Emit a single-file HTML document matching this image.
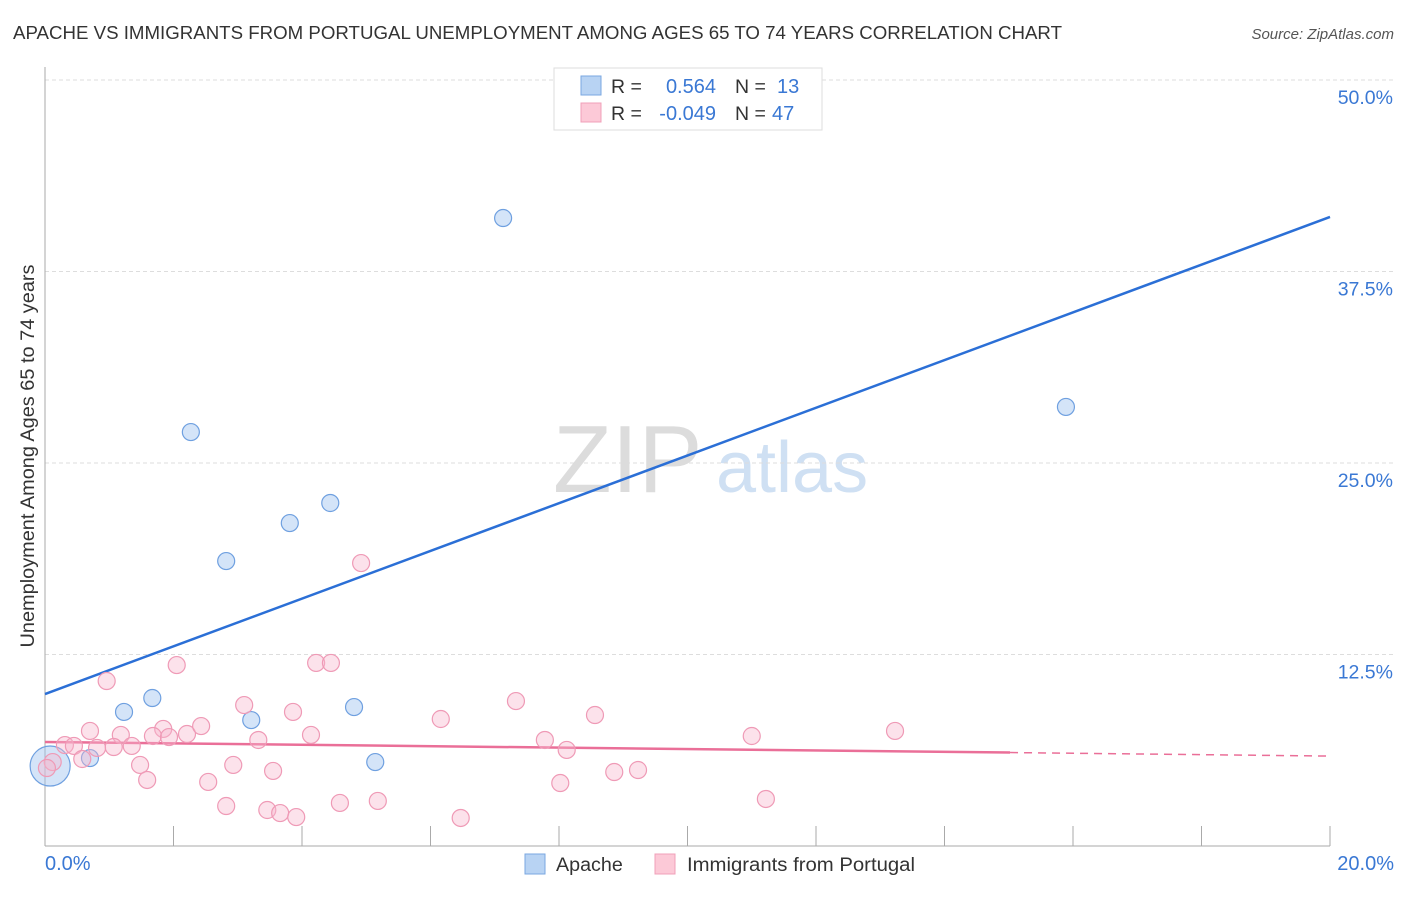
<!DOCTYPE html>
<html><head><meta charset="utf-8"><style>
body{margin:0;background:#fff;font-family:"Liberation Sans",sans-serif}
svg text{font-family:"Liberation Sans",sans-serif}
</style></head><body>
<svg id="chart" width="1406" height="892" viewBox="0 0 1406 892" xmlns="http://www.w3.org/2000/svg">
<text x="13" y="39" font-size="18" fill="#333" textLength="1049" lengthAdjust="spacingAndGlyphs">APACHE VS IMMIGRANTS FROM PORTUGAL UNEMPLOYMENT AMONG AGES 65 TO 74 YEARS CORRELATION CHART</text>
<text x="1394" y="39" font-size="15" fill="#555" text-anchor="end" font-style="italic">Source: ZipAtlas.com</text>
<g>
<text x="553" y="492" font-size="96" fill="#dcdcdc" font-family="Liberation Serif">ZIP</text>
<text x="716" y="492" font-size="72" fill="#cfe0f3">atlas</text>
</g>
<g id="grid"></g>
<g id="axes"></g>
<g id="trends"></g>
<g id="points"></g>
<text transform="translate(34,456) rotate(-90)" font-size="19" fill="#333" text-anchor="middle" textLength="383" lengthAdjust="spacingAndGlyphs">Unemployment Among Ages 65 to 74 years</text>
<g>
<rect x="554" y="68" width="268" height="62" fill="#fff" stroke="#ddd"/>
<rect x="581" y="76" width="20" height="19" fill="#b8d3f3" stroke="#7aa7e0"/>
<rect x="581" y="103" width="20" height="19" fill="#fcc9d7" stroke="#f0a0b8"/>
<text x="611" y="93" font-size="19.5" fill="#333">R =</text>
<text x="716" y="93" font-size="20" fill="#3a78d4" text-anchor="end">0.564</text>
<text x="735" y="93" font-size="19.5" fill="#333">N =</text>
<text x="777" y="93" font-size="20" fill="#3a78d4">13</text>
<text x="611" y="120" font-size="19.5" fill="#333">R =</text>
<text x="716" y="120" font-size="20" fill="#3a78d4" text-anchor="end">-0.049</text>
<text x="735" y="120" font-size="19.5" fill="#333">N =</text>
<text x="772" y="120" font-size="20" fill="#3a78d4">47</text>
</g>
<g>
<g>
<rect x="525" y="854" width="20" height="20" fill="#b8d3f3" stroke="#7aa7e0"/>
<text x="556" y="871" font-size="19.7" fill="#333">Apache</text></g>
<g>
<rect x="655" y="854" width="20" height="20" fill="#fcc9d7" stroke="#f0a0b8"/>
<text x="687" y="871" font-size="19.7" fill="#333" textLength="228" lengthAdjust="spacingAndGlyphs">Immigrants from Portugal</text></g>
</g>
</svg>
<script>
const yTicks=[12.5,25,37.5,50];
const yTickLabels=["12.5%","25.0%","37.5%","50.0%"];
const xTicks=[0,2,4,6,8,10,12,14,16,18,20];
const xEndLabels=["0.0%","20.0%"];
const apacheX=[0.08,0.70,1.23,1.67,2.27,2.82,3.21,3.81,4.44,4.81,5.14,7.13,15.89];
const apacheY=[5.22,5.74,8.75,9.66,27.02,18.60,8.22,21.08,22.39,9.07,5.48,40.99,28.66];
const portX=[0.96,2.05,4.22,4.45,3.10,3.86,6.16,0.70,1.18,1.84,1.68,1.93,2.21,2.43,3.32,4.14,0.31,0.45,0.81,1.07,1.35,0.58,0.12,1.48,2.93,3.55,1.59,2.54,2.82,3.46,3.66,3.91,4.59,5.18,4.92,7.33,7.78,8.12,8.56,8.02,8.86,9.23,6.47,11.00,11.22,13.23,0.03];
const portY=[10.77,11.81,11.95,11.95,9.20,8.75,8.29,7.51,7.25,7.64,7.18,7.11,7.31,7.83,6.92,7.25,6.59,6.53,6.40,6.46,6.53,5.68,5.48,5.29,5.29,4.90,4.31,4.18,2.61,2.35,2.15,1.89,2.81,2.94,18.47,9.46,6.92,6.27,8.55,4.11,4.83,4.96,1.83,7.18,3.07,7.51,5.09];
const apacheTrend=[9.92,41.06];
const portTrend=[6.79,5.87];
const portSolidEnd=15.02;

const NS="http://www.w3.org/2000/svg";
const X=v=>45+v*64.25;
const Y=v=>846-v*15.32;
function mk(tag,attrs,parent){const e=document.createElementNS(NS,tag);for(const k in attrs)e.setAttribute(k,attrs[k]);parent.appendChild(e);return e;}
const grid=document.getElementById('grid'),axes=document.getElementById('axes'),tr=document.getElementById('trends'),pts=document.getElementById('points');
yTicks.forEach((t,i)=>{
 const l=mk('line',{x1:45,x2:1393,y1:Y(t),y2:Y(t),stroke:'#ddd','stroke-dasharray':'4,3'},grid);
 
 
 const tx=mk('text',{x:1393,y:Y(t)+24,'font-size':19.5,fill:'#3a78d4','text-anchor':'end'},grid);
 tx.textContent=yTickLabels[i];
 
 
});
const ya=mk('line',{x1:45,x2:45,y1:67,y2:846,stroke:'#aaa'},axes);


const xa=mk('line',{x1:45,x2:1330,y1:846,y2:846,stroke:'#aaa'},axes);


xTicks.forEach(t=>{
 const l=mk('line',{x1:X(t),x2:X(t),y1:826,y2:846,stroke:'#aaa'},axes);
 
 
});
const xl0=mk('text',{x:45,y:870,'font-size':20,fill:'#3a78d4'},axes);xl0.textContent=xEndLabels[0];


const xl1=mk('text',{x:1394,y:870,'font-size':20,fill:'#3a78d4','text-anchor':'end'},axes);xl1.textContent=xEndLabels[1];



const bt=mk('line',{x1:X(0),y1:Y(apacheTrend[0]),x2:X(20),y2:Y(apacheTrend[1]),stroke:'#2b6fd6','stroke-width':2.5},tr);


const slope=(portTrend[1]-portTrend[0])/20;
const pe=portTrend[0]+slope*portSolidEnd;
const pt1=mk('line',{x1:X(0),y1:Y(portTrend[0]),x2:X(portSolidEnd),y2:Y(pe),stroke:'#ea6f98','stroke-width':2.5},tr);


const pt2=mk('line',{x1:X(portSolidEnd),y1:Y(pe),x2:X(20),y2:Y(portTrend[1]),stroke:'#ea6f98','stroke-width':1.5,'stroke-dasharray':'8,6'},tr);



apacheX.forEach((v,i)=>{
 const c=mk('circle',{cx:X(v),cy:Y(apacheY[i]),r:i===0?20:8.5,fill:'rgba(160,196,240,0.45)',stroke:'#6fa0e0','stroke-width':1.2},pts);
 
 
});
portX.forEach((v,i)=>{
 const c=mk('circle',{cx:X(v),cy:Y(portY[i]),r:8.5,fill:'rgba(248,182,204,0.4)',stroke:'#ef9ab6','stroke-width':1.2},pts);
 
 
});
</script>
</body></html>
